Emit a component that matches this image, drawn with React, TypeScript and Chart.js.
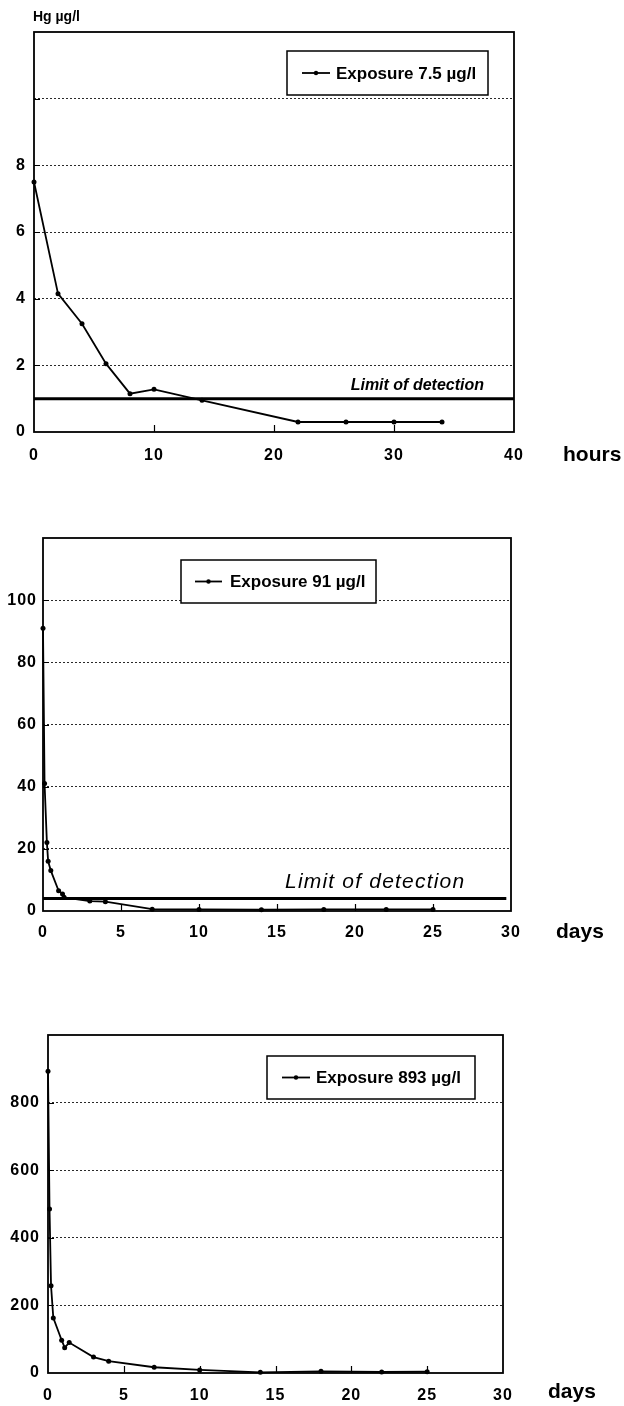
import React, { useEffect, useRef } from "react";
import { Chart, registerables } from "chart.js";

Chart.register(...registerables);

// ---------- data ----------
const p1Label = "Exposure 7.5 µg/l";
const p1Hours = [0, 2, 4, 6, 8, 10, 14, 22, 26, 30, 34];
const p1Values = [7.5, 4.15, 3.25, 2.05, 1.15, 1.28, 0.95, 0.3, 0.3, 0.3, 0.3];
const p1Limit = 1;
const p1LimitSpan = [0, 40];

const p2Label = "Exposure 91 µg/l";
const p2Days = [0, 0.1, 0.25, 0.33, 0.5, 1, 1.25, 1.35, 3, 4, 7, 10, 14, 18, 22, 25];
const p2Values = [91, 41, 22, 16, 13, 6.5, 5.5, 4.4, 3.2, 3, 0.6, 0.5, 0.4, 0.5, 0.5, 0.5];
const p2Limit = 4;
const p2LimitSpan = [0, 29.7];

const p3Label = "Exposure 893 µg/l";
const p3Days = [0, 0.1, 0.2, 0.35, 0.9, 1.1, 1.4, 3, 4, 7, 10, 14, 18, 22, 25];
const p3Values = [893, 485, 258, 163, 97, 75, 90, 47, 35, 17, 9, 2, 5, 3, 4];

const yUnitText = "Hg µg/l";
const limitText = "Limit of detection";
const hoursText = "hours";
const daysText = "days";

const FONT = "'Liberation Sans', Arial, Helvetica, sans-serif";

type PanelSpec = {
  top: number;
  height: number;
  area: { left: number; right: number; top: number; bottom: number };
  xMax: number;
  xStep: number;
  yMax: number;
  yStep: number;
  yLabelMax: number;
  xs: number[];
  ys: number[];
  label: string;
  limit: number | null;
  limitSpan: number[];
  xPad: number;
  yPad: number;
  decor: any;
};

const panels: PanelSpec[] = [
  {
    top: 0,
    height: 480,
    area: { left: 34, right: 514, top: 32, bottom: 432 },
    xMax: 40,
    xStep: 10,
    yMax: 12,
    yStep: 2,
    yLabelMax: 8,
    xs: p1Hours,
    ys: p1Values,
    label: p1Label,
    limit: p1Limit,
    limitSpan: p1LimitSpan,
    xPad: 14,
    yPad: 8,
    decor: {
      legend: { x: 287, y: 51, w: 201, h: 44, l1: 302, l2: 330, tx: 336 },
      limitLabel: { text: limitText, x: 484, y: 386, font: `italic bold 16px ${FONT}`, align: "right", spacing: "0px" },
      unit: { text: hoursText, x: 563, y: 455 },
      yTitle: { text: yUnitText, x: 33, y: 17 },
    },
  },
  {
    top: 500,
    height: 460,
    area: { left: 43, right: 511, top: 38, bottom: 411 },
    xMax: 30,
    xStep: 5,
    yMax: 120,
    yStep: 20,
    yLabelMax: 100,
    xs: p2Days,
    ys: p2Values,
    label: p2Label,
    limit: p2Limit,
    limitSpan: p2LimitSpan,
    xPad: 12,
    yPad: 6,
    decor: {
      legend: { x: 181, y: 60, w: 195, h: 43, l1: 195, l2: 222, tx: 230 },
      limitLabel: { text: limitText, x: 285, y: 382, font: `italic 21px ${FONT}`, align: "left", spacing: "1.2px" },
      unit: { text: daysText, x: 556, y: 432 },
      yTitle: null,
    },
  },
  {
    top: 980,
    height: 426,
    area: { left: 48, right: 503, top: 55, bottom: 393 },
    xMax: 30,
    xStep: 5,
    yMax: 1000,
    yStep: 200,
    yLabelMax: 800,
    xs: p3Days,
    ys: p3Values,
    label: p3Label,
    limit: null,
    limitSpan: [],
    xPad: 13,
    yPad: 8,
    decor: {
      legend: { x: 267, y: 76, w: 208, h: 43, l1: 282, l2: 310, tx: 316 },
      limitLabel: null,
      unit: { text: daysText, x: 548, y: 412 },
      yTitle: null,
    },
  },
];

const decorPlugin = {
  id: "decor",
  beforeDraw(chart: any) {
    chart.ctx.letterSpacing = "1px";
  },
  afterDraw(chart: any, _args: any, opts: any) {
    const ctx: CanvasRenderingContext2D = chart.ctx;
    const a = chart.chartArea;
    const xs = chart.scales.x;
    const ys = chart.scales.y;
    ctx.save();
    (ctx as any).letterSpacing = "0px";
    ctx.strokeStyle = "#000";
    ctx.fillStyle = "#000";
    ctx.setLineDash([]);

    // inward tick marks
    ctx.lineWidth = 1.2;
    ctx.beginPath();
    xs.ticks.forEach((t: any) => {
      if (t.value > xs.min && t.value < xs.max) {
        const px = Math.round(xs.getPixelForValue(t.value)) + 0.5;
        ctx.moveTo(px, a.bottom);
        ctx.lineTo(px, a.bottom - 7);
      }
    });
    ys.ticks.forEach((t: any) => {
      if (t.value > ys.min && t.value < ys.max) {
        const py = Math.round(ys.getPixelForValue(t.value)) + 0.5;
        ctx.moveTo(a.left, py);
        ctx.lineTo(a.left + 6, py);
      }
    });
    ctx.stroke();

    // frame
    ctx.lineWidth = 1.8;
    ctx.strokeRect(a.left, a.top, a.right - a.left, a.bottom - a.top);

    // legend box
    const lg = opts.legend;
    if (lg) {
      ctx.fillStyle = "#fff";
      ctx.fillRect(lg.x, lg.y, lg.w, lg.h);
      ctx.fillStyle = "#000";
      ctx.lineWidth = 1.5;
      ctx.strokeRect(lg.x, lg.y, lg.w, lg.h);
      const cy = lg.y + lg.h / 2;
      ctx.lineWidth = 1.8;
      ctx.beginPath();
      ctx.moveTo(lg.l1, cy);
      ctx.lineTo(lg.l2, cy);
      ctx.stroke();
      ctx.beginPath();
      ctx.arc((lg.l1 + lg.l2) / 2, cy, 2.2, 0, Math.PI * 2);
      ctx.fill();
      ctx.font = `bold 17px ${FONT}`;
      ctx.textAlign = "left";
      ctx.textBaseline = "middle";
      ctx.fillText(chart.data.datasets[0].label, lg.tx, cy + 1);
    }

    // limit of detection label
    const ll = opts.limitLabel;
    if (ll) {
      (ctx as any).letterSpacing = ll.spacing;
      ctx.font = ll.font;
      ctx.textAlign = ll.align;
      ctx.textBaseline = "middle";
      ctx.fillText(ll.text, ll.x, ll.y);
      (ctx as any).letterSpacing = "0px";
    }

    // axis unit
    const u = opts.unit;
    if (u) {
      ctx.font = `bold 21px ${FONT}`;
      ctx.textAlign = "left";
      ctx.textBaseline = "middle";
      ctx.fillText(u.text, u.x, u.y);
    }

    // y title
    const yt = opts.yTitle;
    if (yt) {
      ctx.font = `bold 14px ${FONT}`;
      ctx.textAlign = "left";
      ctx.textBaseline = "middle";
      ctx.fillText(yt.text, yt.x, yt.y);
    }
    ctx.restore();
  },
};

function buildConfig(p: PanelSpec): any {
  const W = 624;
  const axisH = 30;
  const datasets: any[] = [
    {
      label: p.label,
      data: p.xs.map((x, i) => ({ x, y: p.ys[i] })),
      borderColor: "#000",
      backgroundColor: "#000",
      borderWidth: 1.8,
      pointRadius: 2.5,
      pointBackgroundColor: "#000",
      pointBorderWidth: 0,
      tension: 0,
      clip: false,
      order: 1,
    },
  ];
  if (p.limit !== null) {
    datasets.push({
      label: "limit",
      data: p.limitSpan.map((x) => ({ x, y: p.limit })),
      borderColor: "#000",
      borderWidth: 3,
      pointRadius: 0,
      tension: 0,
      clip: false,
      order: 2,
    });
  }
  const gridColor = (max: number) => (ctx: any) =>
    ctx.tick && (ctx.tick.value === 0 || ctx.tick.value === max) ? "rgba(0,0,0,0)" : "#2a2a2a";
  return {
    type: "line",
    data: { datasets },
    options: {
      responsive: false,
      animation: false,
      devicePixelRatio: 1,
      events: [],
      layout: {
        padding: {
          left: 0,
          top: p.area.top,
          right: W - p.area.right,
          bottom: p.height - p.area.bottom - axisH,
        },
      },
      scales: {
        x: {
          type: "linear",
          min: 0,
          max: p.xMax,
          afterFit: (s: any) => {
            s.height = axisH;
          },
          ticks: {
            stepSize: p.xStep,
            color: "#000",
            padding: p.xPad,
            maxRotation: 0,
            font: { family: FONT, size: 16, weight: "bold" },
          },
          grid: { display: false, drawTicks: false },
          border: { display: false },
        },
        y: {
          type: "linear",
          min: 0,
          max: p.yMax,
          afterFit: (s: any) => {
            s.width = p.area.left;
          },
          ticks: {
            stepSize: p.yStep,
            color: "#000",
            padding: p.yPad,
            font: { family: FONT, size: 16, weight: "bold" },
            callback: (v: any) => (v <= p.yLabelMax ? String(v) : ""),
          },
          grid: {
            drawTicks: false,
            lineWidth: 1,
            color: gridColor(p.yMax),
          },
          border: { display: false, dash: [2, 2] },
        },
      },
      plugins: {
        legend: { display: false },
        tooltip: { enabled: false },
        decor: p.decor,
      },
    },
    plugins: [decorPlugin],
  };
}

function PanelChart({ spec }: { spec: PanelSpec }) {
  const ref = useRef<HTMLCanvasElement | null>(null);
  useEffect(() => {
    if (!ref.current) return;
    const chart = new Chart(ref.current, buildConfig(spec));
    return () => chart.destroy();
  }, [spec]);
  return (
    <canvas
      ref={ref}
      width={624}
      height={spec.height}
      style={{ position: "absolute", left: 0, top: spec.top, width: 624, height: spec.height, display: "block" }}
    />
  );
}

export default function App() {
  return (
    <div style={{ position: "absolute", left: 0, top: 0, width: 624, height: 1406, background: "#fff", overflow: "hidden" }}>
      {panels.map((p, i) => (
        <PanelChart key={i} spec={p} />
      ))}
    </div>
  );
}
